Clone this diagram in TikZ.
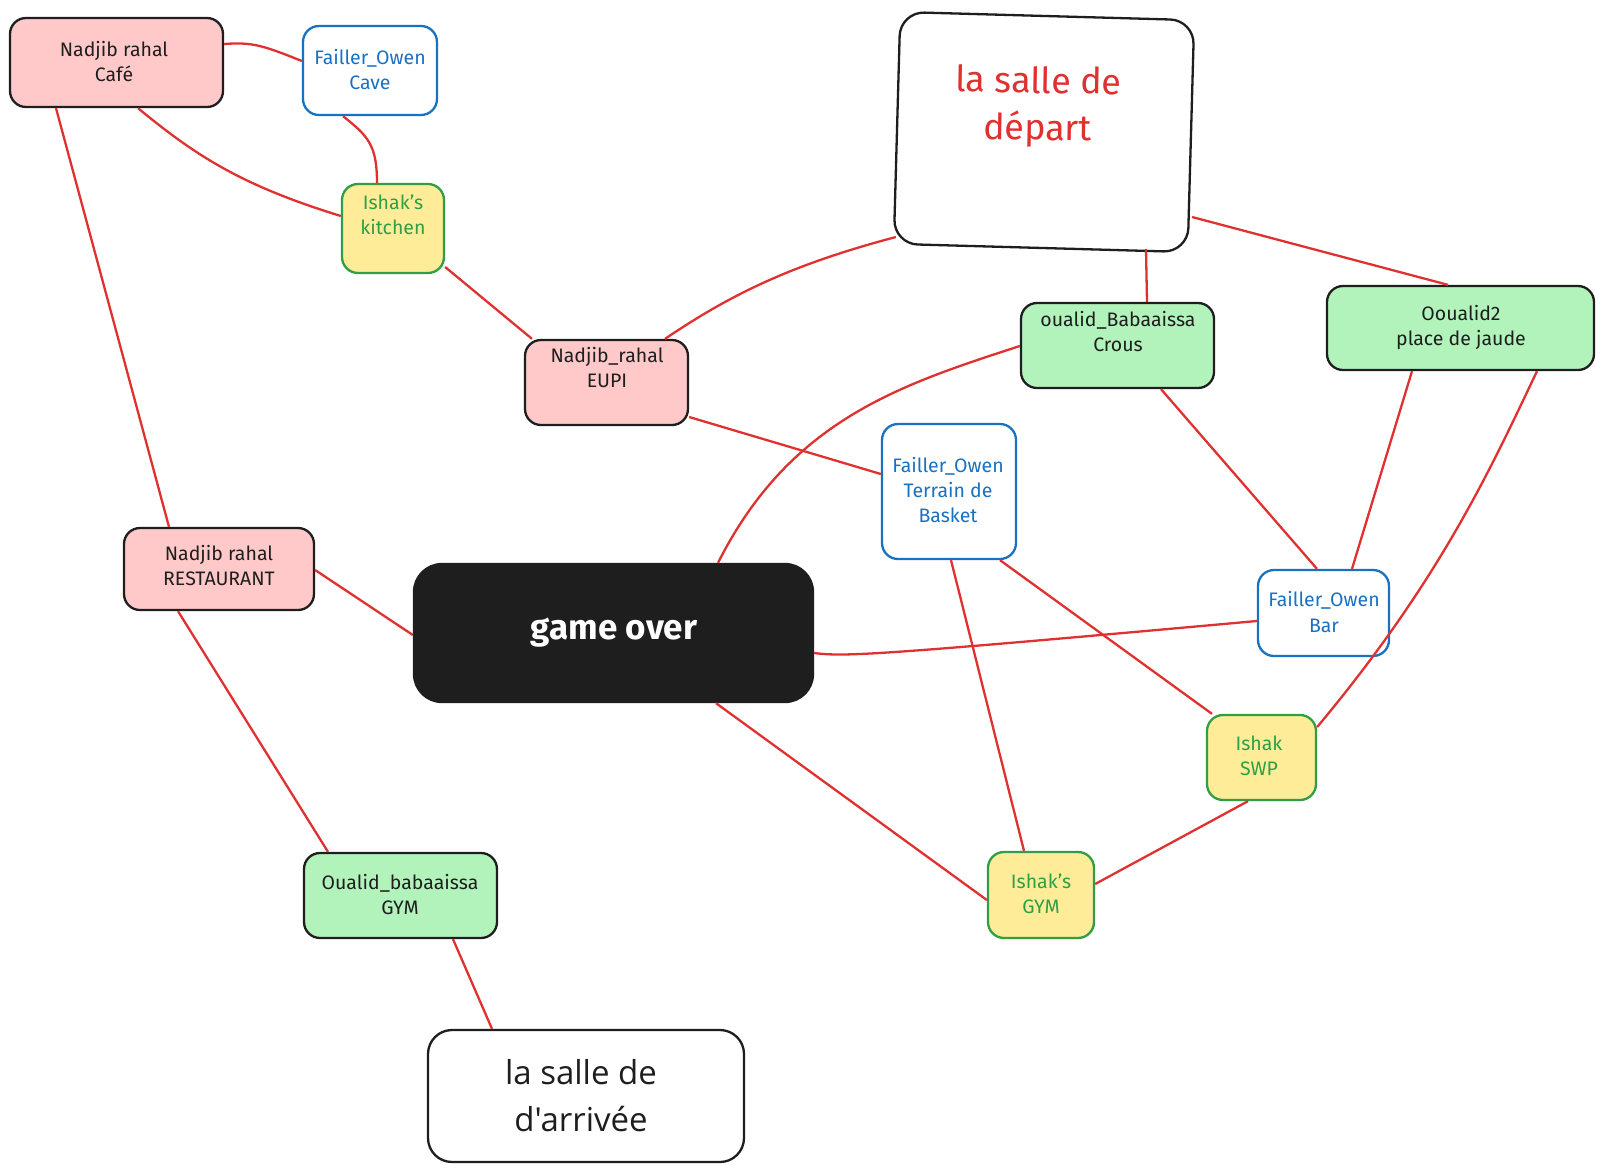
\documentclass[tikz,border=0pt]{standalone}
\usepackage{fontspec}
\setmainfont{Fira Sans}
\newfontfamily\arrfont{Open Sans}
\definecolor{ered}{HTML}{E03131}
\definecolor{epink}{HTML}{FFC9C9}
\definecolor{egreen}{HTML}{B2F2BB}
\definecolor{eyellow}{HTML}{FFEC99}
\definecolor{eblue}{HTML}{1971C2}
\definecolor{egreenS}{HTML}{2F9E44}
\definecolor{eblack}{HTML}{1E1E1E}
\begin{document}
\begin{tikzpicture}[x=1pt,y=-1pt,
  box/.style={draw, rounded corners=16pt, line width=2.3pt, inner sep=0pt},
  pinkbox/.style={box, draw=eblack, fill=epink},
  greenbox/.style={box, draw=eblack, fill=egreen},
  bluebox/.style={box, draw=eblue, fill=white},
  yellowbox/.style={box, draw=egreenS, fill=eyellow},
  lbl/.style={align=center, inner sep=0pt, font=\fontsize{19.5}{25}\selectfont},
  edge/.style={draw=ered, line width=2.3pt}]
\useasboundingbox (0,0) rectangle (1604,1171);

% boxes
\node[pinkbox, minimum width=213pt, minimum height=89pt] (cafe) at (116.5,62.5) {};
\node[bluebox, minimum width=134pt, minimum height=89pt] (cave) at (370,70.5) {};
\node[yellowbox, minimum width=102pt, minimum height=89pt] (kitchen) at (393,228.5) {};
\node[box, draw=eblack, fill=white, rounded corners=24pt, minimum width=294pt, minimum height=232pt, rotate=-1.6] (depart) at (1044,132) {};
\node[pinkbox, minimum width=163pt, minimum height=85pt] (eupi) at (606.5,382.5) {};
\node[greenbox, minimum width=193pt, minimum height=85pt] (crous) at (1117.5,345.5) {};
\node[greenbox, minimum width=267pt, minimum height=84pt] (oou) at (1460.5,328) {};
\node[bluebox, minimum width=134pt, minimum height=135pt] (basket) at (949,491.5) {};
\node[pinkbox, minimum width=190pt, minimum height=82pt] (resto) at (219,569) {};
\node[box, draw=eblack, fill=eblack, rounded corners=28pt, minimum width=399pt, minimum height=138pt] (over) at (613.5,633) {};
\node[bluebox, minimum width=131pt, minimum height=86pt] (bar) at (1323.5,613) {};
\node[yellowbox, minimum width=109pt, minimum height=85pt] (swp) at (1261.5,757.5) {};
\node[yellowbox, minimum width=106pt, minimum height=86pt] (igym) at (1041,895) {};
\node[greenbox, minimum width=193pt, minimum height=85pt] (ogym) at (400.5,895.5) {};
\node[box, draw=eblack, fill=white, rounded corners=24pt, minimum width=316pt, minimum height=132pt] (arr) at (586,1096) {};

% texts
\node[lbl, text=eblack] (cafeT) at (114,62) {Nadjib rahal\\Café};
\node[lbl, text=eblue] (caveT) at (370,69.5) {Failler\_Owen\\Cave};
\node[lbl, text=egreenS] (kitchenT) at (393,215) {Ishak's\\kitchen};
\node[align=center, inner sep=0pt, text=ered, font=\fontsize{36}{47}\selectfont, rotate=-1] (departT) at (1038,107) {la salle de\\départ};
\node[lbl, text=eblack] (eupiT) at (607,368) {Nadjib\_rahal\\EUPI};
\node[lbl, text=eblack] (crousT) at (1118,332) {oualid\_Babaaissa\\Crous};
\node[lbl, text=eblack] (oouT) at (1461,327) {Ooualid2\\place de jaude};
\node[lbl, text=eblue] (basketT) at (948,490) {Failler\_Owen\\Terrain de\\Basket};
\node[lbl, text=eblack] (restoT) at (219,566) {Nadjib rahal\\RESTAURANT};
\node[inner sep=0pt, text=white, font=\fontsize{35}{40}\selectfont\bfseries] (overT) at (614,633) {game over};
\node[lbl, text=eblue] (barT) at (1324,612) {Failler\_Owen\\Bar};
\node[lbl, text=egreenS] (swpT) at (1259,756) {Ishak\\SWP};
\node[lbl, text=egreenS] (igymT) at (1041,894) {Ishak's\\GYM};
\node[lbl, text=eblack] (ogymT) at (400,894) {Oualid\_babaaissa\\GYM};
\node[align=center, inner sep=0pt, text=eblack, font=\arrfont\fontsize{33}{47}\selectfont] (arrT) at (581,1096) {la salle de\\ d'arrivée};

% connectors
\draw[edge] (cafe.east |- 0,44) .. controls (252,42) and (262,45) .. (cave.west |- 0,61);
\draw[edge] (cave.south -| 343,0) .. controls (368,136) and (377,145) .. (kitchen.north -| 377,0);
\draw[edge] (cafe.south -| 138,0) .. controls (195,155) and (240,185) .. (kitchen.west |- 0,216);
\draw[edge] (cafe.south -| 56,0) -- (resto.north -| 169,0);
\draw[edge] (kitchen.east |- 0,267) -- (eupi.north -| 532,0);
\draw[edge] (eupi.north -| 665,0) .. controls (730,295) and (790,265) .. (depart.west |- 0,237);
\draw[edge] (eupi.east |- 0,417) -- (basket.west |- 0,474);
\draw[edge] (depart.south -| 1146,0) -- (crous.north -| 1147,0);
\draw[edge] (depart.east |- 0,217) -- (oou.north -| 1448,0);
\draw[edge] (crous.west |- 0,346) .. controls (900,385) and (790,420) .. (over.north -| 718,0);
\draw[edge] (crous.south -| 1161,0) -- (bar.north -| 1317,0);
\draw[edge] (oou.south -| 1412,0) -- (bar.north -| 1352,0);
\draw[edge] (oou.south -| 1537,0) .. controls (1490,470) and (1440,580) .. (swp.east |- 0,727);
\draw[edge] (resto.east |- 0,570) -- (over.west |- 0,635);
\draw[edge] (resto.south -| 178,0) -- (ogym.north -| 328,0);
\draw[edge] (over.east |- 0,653) .. controls (845,657) and (880,655) .. (bar.west |- 0,621);
\draw[edge] (basket.south -| 1000,0) -- (swp.north -| 1212,0);
\draw[edge] (basket.south -| 951,0) -- (igym.north -| 1024,0);
\draw[edge] (over.south -| 716,0) -- (igym.west |- 0,900);
\draw[edge] (swp.south -| 1248,0) -- (igym.east |- 0,884);
\draw[edge] (ogym.south -| 453,0) -- (arr.north -| 492,0);
\end{tikzpicture}
\end{document}
